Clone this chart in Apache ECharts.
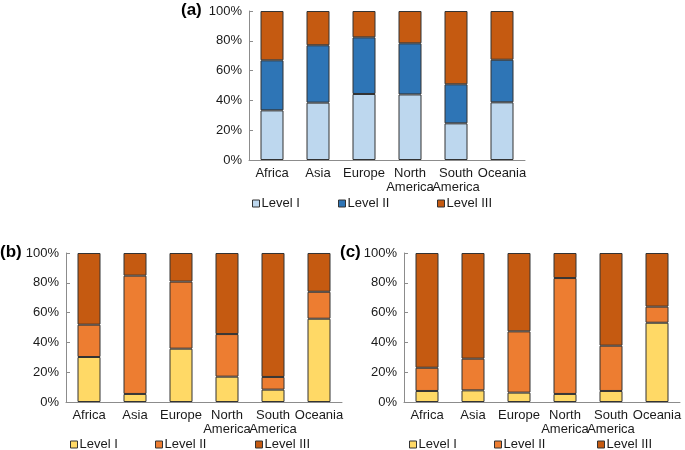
<!DOCTYPE html>
<html>
<head>
<meta charset="utf-8">
<script src="https://cdn.jsdelivr.net/npm/echarts@6/dist/echarts.min.js"></script>
<style>
  html, body { margin: 0; padding: 0; background: #fff; }
  #chart { width: 685px; height: 450px; }
</style>
</head>
<body>
<div id="chart"></div>
<script>
// categories and tick labels
const regions = ['Africa', 'Asia', 'Europe', 'North\nAmerica', 'South\nAmerica', 'Oceania']
const levels = ['Level I', 'Level II', 'Level III']
const yTicks = [0, 20, 40, 60, 80, 100]

// (a) shares in %
const aLevel1 = [33.3, 38.5, 44.3, 44.0, 24.6, 38.7]
const aLevel2 = [33.6, 38.5, 38.0, 34.3, 26.2, 28.6]
const aLevel3 = [33.1, 23.0, 17.7, 21.7, 49.2, 32.7]
// (b)
const bLevel1 = [30.2, 5.4, 35.8, 17.0, 8.3, 55.9]
const bLevel2 = [21.7, 79.4, 45.0, 28.6, 8.5, 18.1]
const bLevel3 = [48.1, 15.2, 19.2, 54.4, 83.2, 26.0]
// (c)
const cLevel1 = [7.4, 7.8, 6.3, 5.4, 7.4, 53.2]
const cLevel2 = [15.6, 21.3, 41.1, 77.8, 30.4, 10.8]
const cLevel3 = [77.0, 70.9, 52.6, 16.8, 62.2, 36.0]

const blueColors = ['#BDD7EE', '#2E75B6', '#C55A11']
const orangeColors = ['#FFD966', '#ED7D31', '#C55A11']

const panels = [
  { tag: 'a', data: [aLevel1, aLevel2, aLevel3], colors: blueColors,
    grid: { left: 249, top: 11, width: 276, height: 149 },
    legendTop: 197, legendLeft: [252, 338, 437] },
  { tag: 'b', data: [bLevel1, bLevel2, bLevel3], colors: orangeColors,
    grid: { left: 66, top: 253, width: 276, height: 149 },
    legendTop: 438, legendLeft: [70, 155, 255] },
  { tag: 'c', data: [cLevel1, cLevel2, cLevel3], colors: orangeColors,
    grid: { left: 404, top: 253, width: 276, height: 149 },
    legendTop: 438, legendLeft: [409, 494, 597] }
]

const font = 'Liberation Sans, Arial, sans-serif'
const axisGray = '#8c8c8c'

const grid = [], xAxis = [], yAxis = [], series = [], legend = [], graphic = []
panels.forEach((p, i) => {
  grid.push(p.grid)
  xAxis.push({
    type: 'category', gridIndex: i, data: regions,
    axisLine: { lineStyle: { color: axisGray } },
    axisTick: { inside: true, length: 4, lineStyle: { color: axisGray } },
    axisLabel: { color: '#1a1a1a', fontSize: 13, fontFamily: font, lineHeight: 14, margin: 6, interval: 0 }
  })
  yAxis.push({
    type: 'value', gridIndex: i, min: yTicks[0], max: yTicks[yTicks.length - 1], interval: 20,
    axisLine: { show: true, lineStyle: { color: axisGray } },
    axisTick: { show: true, inside: true, length: 4, lineStyle: { color: axisGray } },
    splitLine: { show: false },
    axisLabel: { color: '#1a1a1a', fontSize: 13, fontFamily: font, margin: 7, formatter: '{value}%' }
  })
  levels.forEach((lv, k) => {
    const name = lv + ' (' + p.tag + ')'
    series.push({
      name: name, type: 'bar', stack: 'total' + p.tag,
      xAxisIndex: i, yAxisIndex: i, barWidth: '50%',
      data: p.data[k],
      itemStyle: { color: p.colors[k], borderColor: '#333', borderWidth: 1 },
      emphasis: { disabled: true }
    })
    legend.push({
      data: [name], left: p.legendLeft[k], top: p.legendTop,
      itemWidth: 7, itemHeight: 7, padding: 0,
      icon: 'rect',
      itemStyle: { borderColor: '#333', borderWidth: 1 },
      formatter: () => lv,
      textStyle: { color: '#1a1a1a', fontSize: 13, fontFamily: font, padding: [0, 0, 0, -3] }
    })
  })
})

graphic.push(
  { type: 'text', left: 181, top: 2, style: { text: '(a)', font: 'bold 17px ' + font, fill: '#000' } },
  { type: 'text', left: 0, top: 244, style: { text: '(b)', font: 'bold 17px ' + font, fill: '#000' } },
  { type: 'text', left: 340, top: 244, style: { text: '(c)', font: 'bold 17px ' + font, fill: '#000' } }
)

const myChart = echarts.init(document.getElementById('chart'))
myChart.setOption({
  animation: false,
  grid, xAxis, yAxis, series, legend, graphic
})
</script>
</body>
</html>
